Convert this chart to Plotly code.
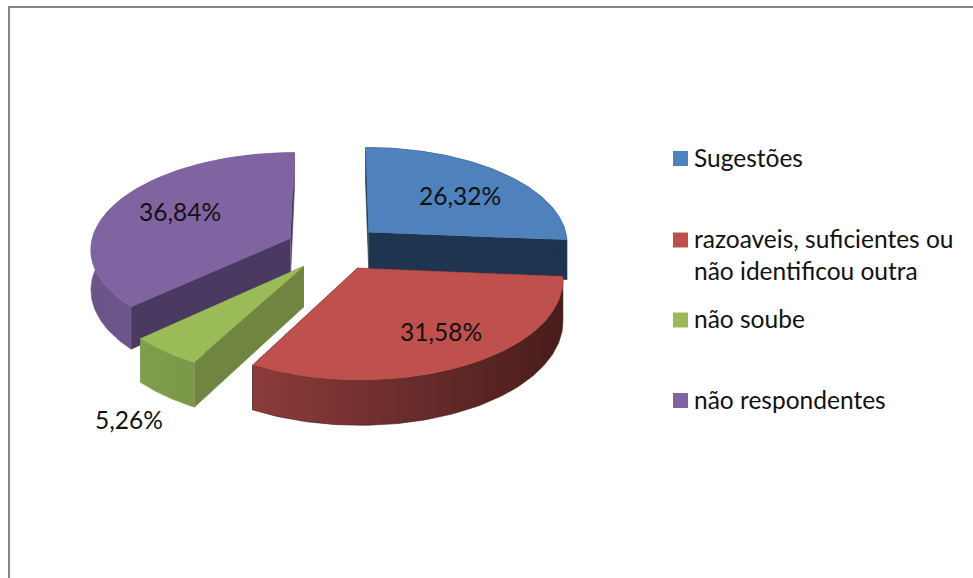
import numpy as np
import plotly.graph_objects as go

categories = ["Sugestões", "razoaveis, suficientes ou<br>não identificou outra", "não soube", "não respondentes"]
values = [26.32, 31.58, 5.26, 36.84]

colors = ["#4F81BD", "#C0504D", "#9BBB59", "#8064A2"]
radial_colors = ["#1F344E", "#4A1E1D", "#6F8540", "#4A3960"]
wall_colors = [("#1F344E", "#1F344E"), ("#8C3C3A", "#481D1C"), ("#7F9F4E", "#7A9847"), ("#6A5488", "#75609A")]
draw_order = [0, 3, 2, 1]
key_y = [158.5, 240, 320, 400.5]
legend_y = [160.5, 258, 321.5, 402.5]
label_xy = [(460, 195), (441, 331), (129, 419), (180, 211)]

CX, CY, R, B, P, PULL, H = 334, 247.5, 200, 96, 0.10, 0.24, 40


def project(u, v, drop=0.0):
    s = 1 / (1 - P * v)
    return CX + R * u * s, CY + B * v * s + drop * H * s


total = sum(values)
edges = np.concatenate([[0], np.cumsum(values)]) / total * 2 * np.pi

fig = go.Figure()


def poly(xs, ys, color, gradient=None):
    kw = dict(x=list(xs), y=list(ys), mode="lines", fill="toself", hoverinfo="skip", showlegend=False,
              line=dict(color=color, width=0.6))
    if gradient:
        kw["fillgradient"] = dict(type="horizontal", colorscale=[[0, gradient[0]], [1, gradient[1]]])
    else:
        kw["fillcolor"] = color
    fig.add_trace(go.Scatter(**kw))


for i in draw_order:
    a, b = edges[i], edges[i + 1]
    mid = (a + b) / 2
    ox, oy = PULL * np.sin(mid), -PULL * np.cos(mid)
    th = np.linspace(a, b, 90)
    u = ox + np.sin(th)
    v = oy - np.cos(th)
    # radial faces
    for ang in (a, b):
        ue, ve = ox + np.sin(ang), oy - np.cos(ang)
        p = [project(ox, oy), project(ue, ve), project(ue, ve, 1), project(ox, oy, 1)]
        poly([q[0] for q in p], [q[1] for q in p], radial_colors[i])
    # outer wall (the top surface hides its back-facing part)
    tx, ty = project(u, v)
    bx, by = project(u, v, 1)
    poly(np.r_[tx, bx[::-1]], np.r_[ty, by[::-1]], wall_colors[i][1], gradient=wall_colors[i])
    # top surface
    ax, ay = project(ox, oy)
    poly(np.r_[ax, tx], np.r_[ay, ty], colors[i])

# legend keys and labels
fig.add_trace(go.Scatter(
    x=[680.5] * 4, y=key_y, mode="markers",
    marker=dict(symbol="square", size=15, color=colors), hoverinfo="skip", showlegend=False))
fig.add_trace(go.Scatter(
    x=[694] * 4, y=legend_y, mode="text", text=categories, textposition="middle right",
    hoverinfo="skip", showlegend=False,
    textfont=dict(family="Lato", size=24.5, color="#111111"), cliponaxis=False))

for val, (x, y) in zip(values, label_xy):
    fig.add_annotation(x=x, y=y, text=f"{val:.2f}%".replace(".", ","), showarrow=False,
                       font=dict(family="Lato", size=24.5, color="#111111"))

fig.add_shape(type="rect", x0=9, y0=7, x1=1000, y1=620, line=dict(color="#868686", width=2), layer="below")

fig.update_layout(
    width=973, height=578, autosize=False, margin=dict(l=0, r=0, t=0, b=0),
    paper_bgcolor="white", plot_bgcolor="white", showlegend=False,
    xaxis=dict(range=[0, 973], visible=False, fixedrange=True),
    yaxis=dict(range=[578, 0], visible=False, fixedrange=True),
)
fig.write_html("out.html", config=dict(displayModeBar=False),
               post_script="document.body.style.margin='0';document.body.style.overflow='hidden';")
